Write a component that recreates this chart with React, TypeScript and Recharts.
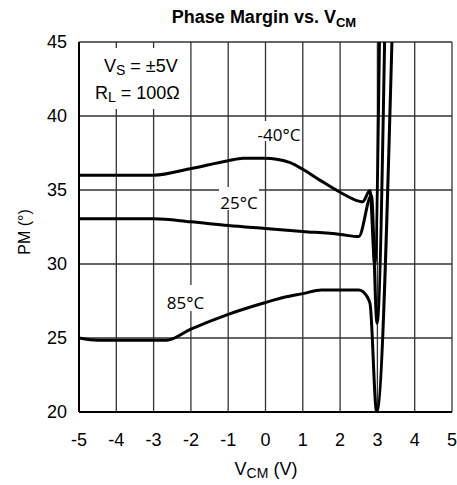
import { LineChart, Line, XAxis, YAxis, CartesianGrid } from "recharts";

// common-mode voltage (V) and phase margin (deg)
const vcmCold = [-5, -3, -2, -1, -0.6, 0, 0.3, 0.66, 1, 1.5, 2, 2.5, 2.6, 2.8, 2.93, 3.06];
const pmCold = [36.0, 36.0, 36.45, 36.98, 37.15, 37.15, 37.08, 36.85, 36.4, 35.6, 34.85, 34.25, 34.2, 34.95, 30.0, 46];

const vcmRoom = [-5, -3, -2, -1, 0, 1, 2, 2.5, 2.84, 2.99, 3.2];
const pmRoom = [33.05, 33.05, 32.85, 32.6, 32.4, 32.2, 32.0, 31.85, 34.65, 26.0, 46];

const vcmHot = [-5, -4.5, -2.65, -2, -1, 0, 0.5, 1, 1.5, 2.5, 2.61, 2.8, 2.98, 3.4];
const pmHot = [25.0, 24.85, 24.85, 25.6, 26.6, 27.4, 27.75, 28.0, 28.25, 28.25, 28.13, 27.36, 20.0, 46];

const xTicks = [-5, -4, -3, -2, -1, 0, 1, 2, 3, 4, 5];
const yTicks = [20, 25, 30, 35, 40, 45];

const toRows = (xs: number[], ys: number[]) => xs.map((v, i) => ({ v, pm: ys[i] }));

const arial = "'Liberation Sans', Arial, sans-serif";
const label = "'Open Sans', 'Noto Sans', sans-serif";

export default function App() {
  const tick = { fill: "#000", fontSize: 18, fontFamily: arial };
  return (
    <div style={{ position: "absolute", left: 0, top: 0, width: 457, height: 485, background: "#fff" }}>
      <LineChart width={457} height={485} margin={{ top: 42, right: 5, bottom: 0, left: 0 }}>
        <CartesianGrid stroke="#333" strokeWidth={1.3} />
        <XAxis
          type="number"
          dataKey="v"
          domain={[-5, 5]}
          ticks={xTicks}
          allowDataOverflow
          height={73}
          tickLine={false}
          tickMargin={15}
          axisLine={{ stroke: "#000", strokeWidth: 2 }}
          tick={tick}
        />
        <YAxis
          type="number"
          domain={[20, 45]}
          ticks={yTicks}
          allowDataOverflow
          width={79}
          tickLine={false}
          tickMargin={6}
          axisLine={{ stroke: "#000", strokeWidth: 2 }}
          tick={tick}
        />
        <Line data={toRows(vcmCold, pmCold)} dataKey="pm" type="monotone" stroke="#000" strokeWidth={3} dot={false} isAnimationActive={false} />
        <Line data={toRows(vcmRoom, pmRoom)} dataKey="pm" type="monotone" stroke="#000" strokeWidth={3} dot={false} isAnimationActive={false} />
        <Line data={toRows(vcmHot, pmHot)} dataKey="pm" type="monotone" stroke="#000" strokeWidth={3} dot={false} isAnimationActive={false} />
      </LineChart>
      <svg width={457} height={485} style={{ position: "absolute", left: 0, top: 0, pointerEvents: "none" }}>
        <text x={264} y={23} textAnchor="middle" fontFamily={arial} fontWeight="bold" fontSize={18}>
          Phase Margin vs. V<tspan fontSize={13} dy={4}>CM</tspan>
        </text>

        <rect x={84} y={48} width={105} height={61} fill="#fff" />
        <text x={104} y={72} fontFamily={arial} fontSize={18}>
          V<tspan fontSize={14} dy={3}>S</tspan><tspan dy={-3}> = ±5V</tspan>
        </text>
        <text x={95} y={99} fontFamily={arial} fontSize={18}>
          R<tspan fontSize={14} dy={3}>L</tspan><tspan dy={-3}> = 100Ω</tspan>
        </text>

        <rect x={257} y={121} width={44} height={20} fill="#fff" />
        <text x={279} y={141} textAnchor="middle" fontFamily={label} fontSize={17}>-40°C</text>
        <rect x={219} y={187} width={40} height={23} fill="#fff" />
        <text x={239} y={209} textAnchor="middle" fontFamily={label} fontSize={17}>25°C</text>
        <rect x={166} y={285} width={39} height={26} fill="#fff" />
        <text x={185.5} y={309} textAnchor="middle" fontFamily={label} fontSize={17}>85°C</text>

        <text x={266} y={475} textAnchor="middle" fontFamily={arial} fontSize={18}>
          V<tspan fontSize={14} dy={3}>CM</tspan><tspan dy={-3}> (V)</tspan>
        </text>
        <text x={30} y={232} textAnchor="middle" fontFamily={arial} fontSize={16} transform="rotate(-90 30 232)">
          PM (°)
        </text>
      </svg>
    </div>
  );
}
